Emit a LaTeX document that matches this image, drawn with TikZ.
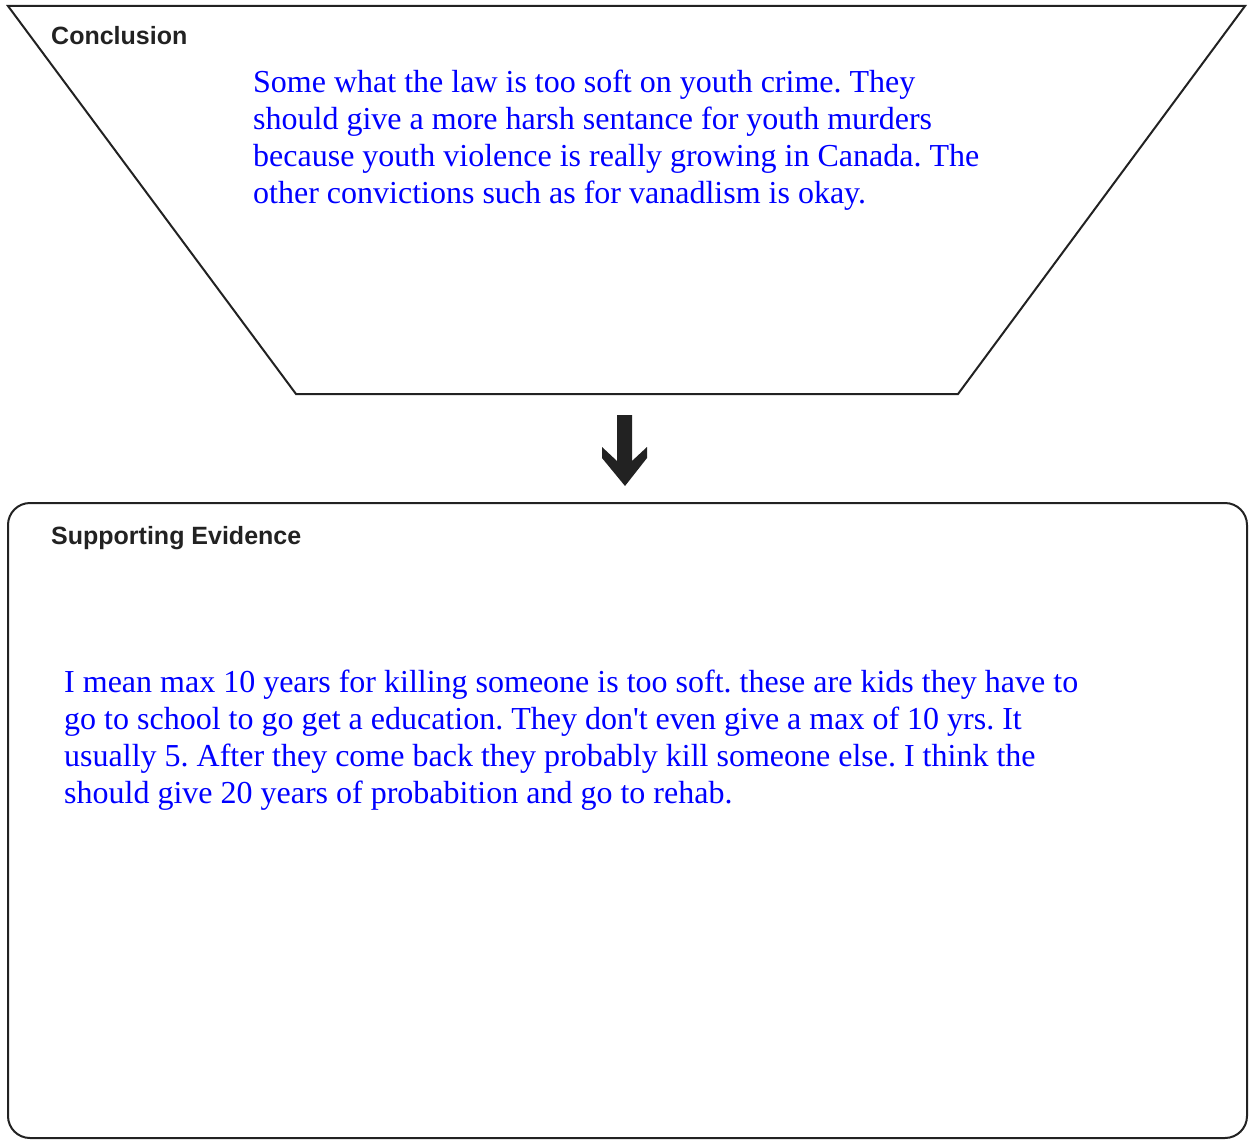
\documentclass[tikz,border=0pt]{standalone}
\usepackage{fontspec}
\setmainfont{Liberation Serif}
\newfontfamily\labelfont{Liberation Sans}
\usetikzlibrary{positioning}
\frenchspacing
\definecolor{lineclr}{HTML}{222222}
\definecolor{inkblue}{HTML}{0000FF}
\tikzset{
  outline/.style={draw=lineclr, line width=2pt, line join=miter},
  heading/.style={font=\labelfont\bfseries\fontsize{25}{29}\selectfont, text=lineclr, anchor=base west, inner sep=0pt},
  % base anchor of a many-line node sits on its last line
  answer/.style={font=\fontsize{32}{36.7}\selectfont, text=inkblue, align=left, anchor=base west, inner sep=0pt},
}

\begin{document}
\begin{tikzpicture}[x=1pt,y=-1pt]
  % page frame
  \useasboundingbox (0,0) rectangle (1249,1140);

  % the funnel of the conclusion
  \coordinate (ftl) at (8,6);
  \coordinate (ftr) at (1245,6);
  \coordinate (fbr) at (958,394);
  \coordinate (fbl) at (296,394);
  \draw[outline] (ftl) -- (ftr) -- (fbr) -- (fbl) -- cycle;
  \node[heading] (conclab) at (51,45) {Conclusion};
  \node[answer] (conctext) at (253,203) {Some what the law is too soft on youth crime. They\\
    should give a more harsh sentance for youth murders\\
    because youth violence is really growing in Canada. The\\
    other convictions such as for vanadlism is okay.};

  % block arrow between the two parts
  \fill[lineclr] (617,415) -- (632,415) -- (632,461) -- (647,447) -- (647,458)
    -- (625,486) -- (602,458) -- (602,447) -- (617,461) -- cycle;

  % the box of supporting evidence
  \draw[outline, rounded corners=22pt] (8,503) rectangle (1247,1138);
  \node[heading] (evilab) at (51,544) {Supporting Evidence};
  \node[answer] (evitext) at (64,803) {I mean max 10 years for killing someone is too soft. these are kids they have to\\
    go to school to go get a education. They don\textquotesingle t even give a max of 10 yrs. It\\
    usually 5. After they come back they probably kill someone else. I think the\\
    should give 20 years of probabition and go to rehab.};
\end{tikzpicture}
\end{document}
